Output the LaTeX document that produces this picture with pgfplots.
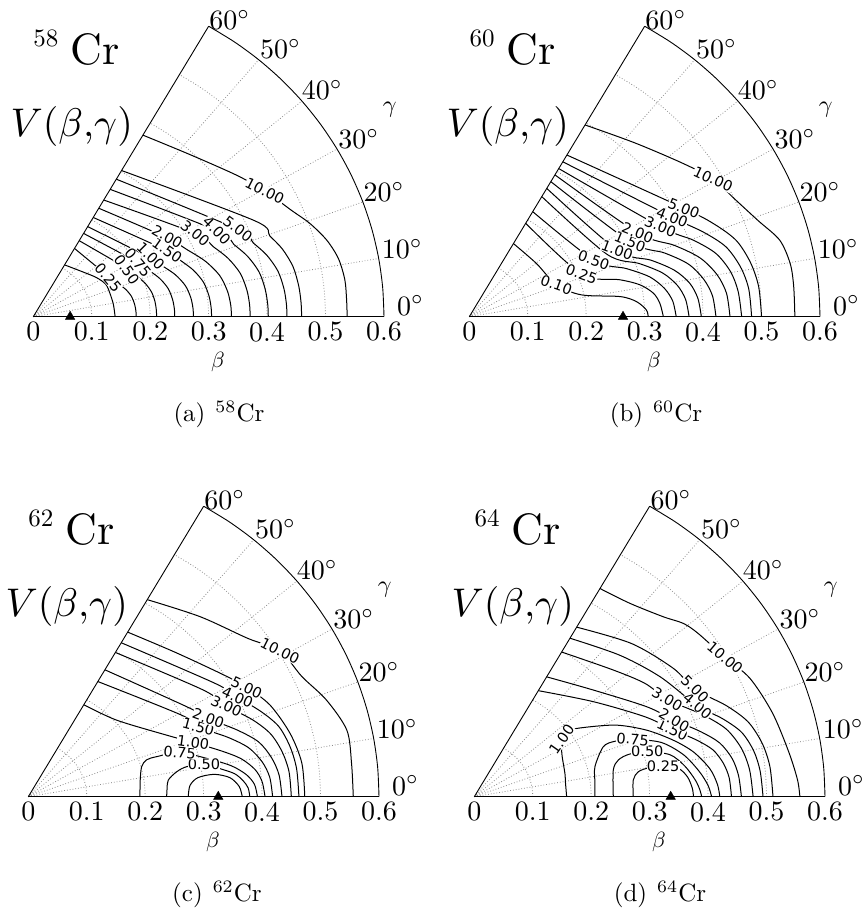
\documentclass[border=0pt]{standalone}
\usepackage{fix-cm}
\usepackage{graphicx}
\usepackage{fontspec}
\usepackage{pgfplots}
\usepgfplotslibrary{polar}
\pgfplotsset{compat=1.18}
\newfontfamily\clabfont{DejaVu Sans}

\pgfplotsset{
  panel/.style={anchor=south west, x=584.5pt, y=559pt, xmin=0, xmax=0.6, ymin=0, ymax=0.52, hide axis, clip=false},
  cline/.style={black, line width=1pt, smooth, mark=none},
  pgrid/.style={black!45, line width=0.8pt, dash pattern=on 0.8pt off 2pt, mark=none},
  pframe/.style={black, line width=0.9pt, mark=none},
}
\tikzset{
  clab/.style={font={\clabfont\fontsize{14.5}{14.5}\selectfont}, fill=white, inner sep=0.3pt},
  tk/.style={inner sep=0pt},
}
\newcommand{\tl}[1]{\scalebox{2.8}{#1}}
\newcommand{\polarframe}[1]{%
  \pgfplotsinvokeforeach{0.1,0.2,0.3,0.4,0.5}{%
    \addplot[pgrid, data cs=polar, smooth] coordinates {(0,##1) (5,##1) (10,##1) (15,##1) (20,##1) (25,##1) (30,##1) (35,##1) (40,##1) (45,##1) (50,##1) (55,##1) (60,##1)};
  }%
  \addplot[pgrid] coordinates {(0,0) (0.5909,0.1042)};
  \addplot[pgrid] coordinates {(0,0) (0.5638,0.2052)};
  \addplot[pgrid] coordinates {(0,0) (0.5196,0.3)};
  \addplot[pgrid] coordinates {(0,0) (0.4596,0.3857)};
  \addplot[pgrid] coordinates {(0,0) (0.3857,0.4596)};
  \addplot[pframe] coordinates {(0,0) (0.6,0)};
  \addplot[pframe] coordinates {(0,0) (0.3,0.5196)};
  \addplot[pframe, data cs=polar, smooth] coordinates {(0,0.6) (5,0.6) (10,0.6) (15,0.6) (20,0.6) (25,0.6) (30,0.6) (35,0.6) (40,0.6) (45,0.6) (50,0.6) (55,0.6) (60,0.6)};
  \node[tk, anchor=north] at (axis cs:0,-0.0095) {\tl{0}};
  \node[tk, anchor=north] at (axis cs:0.1,-0.0095) {\tl{0.1}};
  \node[tk, anchor=north] at (axis cs:0.2,-0.0095) {\tl{0.2}};
  \node[tk, anchor=north] at (axis cs:0.3,-0.0095) {\tl{0.3}};
  \node[tk, anchor=north] at (axis cs:0.4,-0.0095) {\tl{0.4}};
  \node[tk, anchor=north] at (axis cs:0.5,-0.0095) {\tl{0.5}};
  \node[tk, anchor=north] at (axis cs:0.6,-0.0095) {\tl{0.6}};
  \node[tk, anchor=base west] at (axis cs:0.622,0.003) {\tl{0$^\circ$}};
  \node[tk, anchor=base west] at (axis cs:0.596,0.1045) {\tl{10$^\circ$}};
  \node[tk, anchor=base west] at (axis cs:0.5646,0.2058) {\tl{20$^\circ$}};
  \node[tk, anchor=base west] at (axis cs:0.5218,0.3012) {\tl{30$^\circ$}};
  \node[tk, anchor=base west] at (axis cs:0.4592,0.3877) {\tl{40$^\circ$}};
  \node[tk, anchor=base west] at (axis cs:0.3879,0.4622) {\tl{50$^\circ$}};
  \node[tk, anchor=base west] at (axis cs:0.3011,0.5135) {\tl{60$^\circ$}};
  \node[tk, anchor=north] at (axis cs:0.316,-0.063) {\scalebox{2.2}{$\beta$}};
  \node[tk] at (axis cs:0.610,0.370) {\scalebox{2.4}{$\gamma$}};
  \node[tk, anchor=base west] at (axis cs:0,0.4825) {\scalebox{2.5}{#1}};
  \node[tk, anchor=base west] at (axis cs:0.064,0.4503) {\scalebox{4.4}{Cr}};
  \node[tk, anchor=base west] at (axis cs:-0.039,0.3215) {\scalebox{4.0}{$V(\beta{,}\gamma)$}};
}

\begin{document}
\begin{tikzpicture}
\useasboundingbox (0,0) rectangle (867pt,916pt);

% ---------------- (a) 58Cr ----------------
\begin{axis}[panel, at={(33.3pt,599.3pt)}]
\polarframe{58}
\addplot[cline] coordinates {(0.0535,0.0927) (0.085,0.080) (0.108,0.070) (0.124,0.058) (0.131,0.042) (0.137,0.022) (0.140,0)};
\addplot[cline] coordinates {(0.0705,0.1221) (0.131,0.070) (0.1459,0.0588) (0.158,0.049) (0.1679,0.0364) (0.1733,0.0224) (0.1756,0.0098) (0.176,0)};
\addplot[cline] coordinates {(0.0785,0.136) (0.164,0.084) (0.1795,0.0706) (0.1922,0.0588) (0.2025,0.0437) (0.2082,0.0269) (0.2105,0.0118) (0.211,0)};
\addplot[cline] coordinates {(0.086,0.149) (0.179,0.097) (0.1998,0.0815) (0.2168,0.0679) (0.2307,0.0504) (0.2382,0.031) (0.2414,0.0136) (0.242,0)};
\addplot[cline] coordinates {(0.093,0.1611) (0.197,0.107) (0.2224,0.0899) (0.2432,0.0749) (0.2601,0.0556) (0.2694,0.0342) (0.2732,0.015) (0.274,0)};
\addplot[cline] coordinates {(0.1025,0.1775) (0.227,0.119) (0.2527,0.100) (0.2738,0.0833) (0.291,0.0619) (0.3003,0.0381) (0.3042,0.0167) (0.305,0)};
\addplot[cline] coordinates {(0.112,0.194) (0.227,0.142) (0.264,0.1193) (0.2942,0.0994) (0.3188,0.0738) (0.3323,0.0454) (0.3379,0.0199) (0.339,0)};
\addplot[cline] coordinates {(0.1205,0.2087) (0.277,0.149) (0.308,0.1252) (0.3334,0.1043) (0.3541,0.0775) (0.3654,0.0477) (0.3701,0.0209) (0.371,0)};
\addplot[cline] coordinates {(0.1315,0.2278) (0.314,0.154) (0.343,0.1294) (0.3668,0.1078) (0.3862,0.0801) (0.3967,0.0493) (0.4011,0.0216) (0.402,0)};
\addplot[cline] coordinates {(0.142,0.246) (0.348,0.157) (0.3764,0.1319) (0.3996,0.1099) (0.4185,0.0816) (0.4288,0.0502) (0.4331,0.022) (0.434,0)};
\addplot[cline] coordinates {(0.151,0.2615) (0.378,0.172) (0.4047,0.1445) (0.4266,0.1204) (0.4444,0.0894) (0.4541,0.055) (0.4582,0.0241) (0.459,0)};
\addplot[cline] coordinates {(0.1875,0.3248) (0.268,0.290) (0.348,0.253) (0.396,0.225) (0.442,0.190) (0.473,0.167) (0.502,0.137) (0.522,0.104) (0.533,0.066) (0.536,0.030) (0.537,0)};
\node[clab, rotate=-50] at (axis cs:0.128,0.070) {0.25};
\node[clab, rotate=-55] at (axis cs:0.160,0.084) {0.50};
\node[clab, rotate=-50] at (axis cs:0.179,0.097) {0.75};
\node[clab, rotate=-45] at (axis cs:0.201,0.108) {1.00};
\node[clab, rotate=-35] at (axis cs:0.229,0.119) {1.50};
\node[clab, rotate=-30] at (axis cs:0.229,0.143) {2.00};
\node[clab, rotate=-40] at (axis cs:0.277,0.149) {3.00};
\node[clab, rotate=-45] at (axis cs:0.314,0.154) {4.00};
\node[clab, rotate=-37] at (axis cs:0.350,0.157) {5.00};
\node[clab, rotate=-27] at (axis cs:0.396,0.225) {10.00};
\addplot[only marks, mark=triangle*, mark size=5.5pt, black] coordinates {(0.063,0)};
\end{axis}

% ---------------- (b) 60Cr ----------------
\begin{axis}[panel, at={(469.3pt,599.3pt)}]
\polarframe{60}
\addplot[cline] coordinates {(0.0755,0.1308) (0.115,0.095) (0.149,0.057) (0.192,0.039) (0.258,0.036) (0.286,0.027) (0.303,0.012) (0.306,0)};
\addplot[cline] coordinates {(0.0965,0.1671) (0.192,0.076) (0.258,0.066) (0.292,0.057) (0.315,0.042) (0.326,0.024) (0.332,0)};
\addplot[cline] coordinates {(0.1085,0.1879) (0.213,0.101) (0.269,0.086) (0.309,0.071) (0.334,0.0505) (0.348,0.028) (0.354,0)};
\addplot[cline] coordinates {(0.124,0.2148) (0.235,0.112) (0.291,0.095) (0.331,0.078) (0.356,0.056) (0.370,0.031) (0.376,0)};
\addplot[cline] coordinates {(0.1325,0.2295) (0.253,0.119) (0.311,0.101) (0.351,0.083) (0.377,0.060) (0.391,0.033) (0.397,0)};
\addplot[cline] coordinates {(0.1395,0.2416) (0.275,0.134) (0.334,0.114) (0.375,0.094) (0.401,0.067) (0.416,0.0375) (0.422,0)};
\addplot[cline] coordinates {(0.1465,0.2537) (0.288,0.150) (0.351,0.1275) (0.395,0.105) (0.424,0.075) (0.440,0.042) (0.446,0)};
\addplot[cline] coordinates {(0.153,0.265) (0.327,0.161) (0.383,0.137) (0.422,0.113) (0.447,0.0805) (0.460,0.045) (0.466,0)};
\addplot[cline] coordinates {(0.160,0.2771) (0.347,0.178) (0.401,0.151) (0.439,0.125) (0.464,0.089) (0.478,0.050) (0.483,0)};
\addplot[cline] coordinates {(0.167,0.2892) (0.367,0.194) (0.420,0.165) (0.457,0.136) (0.481,0.097) (0.495,0.054) (0.500,0)};
\addplot[cline] coordinates {(0.198,0.343) (0.283,0.311) (0.366,0.274) (0.417,0.246) (0.4545,0.210) (0.494,0.172) (0.531,0.137) (0.549,0.095) (0.555,0.054) (0.557,0)};
\node[clab, rotate=-20] at (axis cs:0.149,0.057) {0.10};
\node[clab, rotate=-20] at (axis cs:0.192,0.076) {0.25};
\node[clab, rotate=-20] at (axis cs:0.213,0.101) {0.50};
\node[clab, rotate=-20] at (axis cs:0.253,0.119) {1.00};
\node[clab, rotate=-22] at (axis cs:0.275,0.134) {1.50};
\node[clab, rotate=-22] at (axis cs:0.288,0.150) {2.00};
\node[clab, rotate=-22] at (axis cs:0.327,0.161) {3.00};
\node[clab, rotate=-22] at (axis cs:0.347,0.178) {4.00};
\node[clab, rotate=-22] at (axis cs:0.367,0.194) {5.00};
\node[clab, rotate=-25] at (axis cs:0.417,0.246) {10.00};
\addplot[only marks, mark=triangle*, mark size=5.5pt, black] coordinates {(0.263,0)};
\end{axis}

% ---------------- (c) 62Cr ----------------
\begin{axis}[panel, at={(28.3pt,119.3pt)}]
\polarframe{62}
\addplot[cline] coordinates {(0.2737,0) (0.2766,0.02) (0.29,0.034) (0.318,0.040) (0.345,0.034) (0.361,0.018) (0.366,0)};
\addplot[cline] coordinates {(0.2367,0) (0.2375,0.015) (0.2395,0.0298) (0.254,0.0447) (0.271,0.0537) (0.3005,0.058) (0.3315,0.049) (0.3532,0.041) (0.3672,0.029) (0.376,0.016) (0.379,0)};
\addplot[cline] coordinates {(0.191,0) (0.1915,0.03) (0.194,0.054) (0.2025,0.066) (0.2195,0.0716) (0.259,0.079) (0.311,0.067) (0.348,0.055) (0.373,0.0395) (0.387,0.022) (0.392,0)};
\addplot[cline] coordinates {(0.095,0.1645) (0.151,0.137) (0.237,0.110) (0.282,0.097) (0.330,0.082) (0.364,0.068) (0.388,0.0485) (0.400,0.027) (0.405,0)};
\addplot[cline] coordinates {(0.119,0.206) (0.262,0.146) (0.291,0.125) (0.342,0.106) (0.377,0.0875) (0.400,0.0625) (0.413,0.035) (0.418,0)};
\addplot[cline] coordinates {(0.131,0.227) (0.271,0.161) (0.308,0.140) (0.358,0.119) (0.394,0.098) (0.416,0.070) (0.429,0.039) (0.434,0)};
\addplot[cline] coordinates {(0.149,0.258) (0.299,0.191) (0.339,0.162) (0.383,0.138) (0.414,0.113) (0.434,0.081) (0.446,0.045) (0.450,0)};
\addplot[cline] coordinates {(0.159,0.2754) (0.319,0.203) (0.358,0.178) (0.400,0.151) (0.429,0.125) (0.448,0.089) (0.459,0.050) (0.463,0)};
\addplot[cline] coordinates {(0.170,0.2944) (0.252,0.258) (0.334,0.218) (0.3735,0.1956) (0.4135,0.164) (0.448,0.113) (0.468,0.060) (0.473,0)};
\addplot[cline] coordinates {(0.2035,0.3525) (0.294,0.322) (0.376,0.283) (0.4306,0.261) (0.468,0.215) (0.510,0.173) (0.545,0.119) (0.553,0.060) (0.556,0)};
\node[clab, rotate=0] at (axis cs:0.3005,0.058) {0.50};
\node[clab, rotate=-5] at (axis cs:0.259,0.079) {0.75};
\node[clab, rotate=-8] at (axis cs:0.282,0.097) {1.00};
\node[clab, rotate=-15] at (axis cs:0.291,0.125) {1.50};
\node[clab, rotate=-20] at (axis cs:0.308,0.140) {2.00};
\node[clab, rotate=-25] at (axis cs:0.339,0.162) {3.00};
\node[clab, rotate=-25] at (axis cs:0.358,0.178) {4.00};
\node[clab, rotate=-25] at (axis cs:0.3735,0.1956) {5.00};
\node[clab, rotate=-27] at (axis cs:0.4306,0.261) {10.00};
\addplot[only marks, mark=triangle*, mark size=5.5pt, black] coordinates {(0.325,0)};
\end{axis}

% ---------------- (d) 64Cr ----------------
\begin{axis}[panel, at={(474.3pt,119.3pt)}]
\polarframe{64}
\addplot[cline] coordinates {(0.272,0) (0.272,0.0298) (0.2806,0.0447) (0.30,0.052) (0.323,0.0537) (0.35,0.05) (0.365,0.035) (0.373,0.015) (0.375,0)};
\addplot[cline] coordinates {(0.2378,0) (0.2378,0.0477) (0.2464,0.0656) (0.265,0.076) (0.296,0.0805) (0.335,0.075) (0.36,0.055) (0.378,0.03) (0.386,0.012) (0.389,0)};
\addplot[cline] coordinates {(0.2064,0) (0.2064,0.025) (0.2064,0.0537) (0.2207,0.0894) (0.24,0.099) (0.271,0.1026) (0.32,0.097) (0.358,0.075) (0.385,0.045) (0.400,0.02) (0.406,0)};
\addplot[cline] coordinates {(0.158,0) (0.156,0.025) (0.155,0.042) (0.150,0.075) (0.1494,0.1026) (0.160,0.118) (0.189,0.124) (0.2435,0.128) (0.295,0.119) (0.3405,0.101) (0.375,0.08) (0.403,0.05) (0.416,0.022) (0.420,0)};
\addplot[cline] coordinates {(0.1095,0.1897) (0.2036,0.170) (0.292,0.143) (0.339,0.120) (0.379,0.102) (0.408,0.084) (0.426,0.060) (0.436,0.034) (0.440,0)};
\addplot[cline] coordinates {(0.1238,0.2144) (0.2036,0.1908) (0.2948,0.161) (0.342,0.137) (0.388,0.116) (0.420,0.096) (0.441,0.0685) (0.452,0.038) (0.457,0)};
\addplot[cline] coordinates {(0.1494,0.2588) (0.2378,0.2266) (0.292,0.2027) (0.332,0.173) (0.390,0.147) (0.431,0.121) (0.457,0.0865) (0.471,0.048) (0.477,0)};
\addplot[cline] coordinates {(0.1637,0.2835) (0.249,0.253) (0.3177,0.2147) (0.380,0.164) (0.4256,0.139) (0.4575,0.115) (0.478,0.082) (0.489,0.046) (0.494,0)};
\addplot[cline] coordinates {(0.1751,0.3033) (0.269,0.274) (0.3405,0.2296) (0.3775,0.192) (0.431,0.163) (0.4683,0.134) (0.4923,0.096) (0.5057,0.054) (0.511,0)};
\addplot[cline] coordinates {(0.215,0.3724) (0.266,0.346) (0.323,0.322) (0.3576,0.310) (0.383,0.292) (0.429,0.249) (0.4716,0.2117) (0.51,0.15) (0.538,0.08) (0.553,0.03) (0.557,0)};
\node[clab, rotate=0] at (axis cs:0.323,0.0537) {0.25};
\node[clab, rotate=0] at (axis cs:0.296,0.0805) {0.50};
\node[clab, rotate=-5] at (axis cs:0.271,0.1026) {0.75};
\node[clab, rotate=55] at (axis cs:0.1494,0.1026) {1.00};
\node[clab, rotate=-25] at (axis cs:0.339,0.120) {1.50};
\node[clab, rotate=-30] at (axis cs:0.342,0.137) {2.00};
\node[clab, rotate=-30] at (axis cs:0.330,0.174) {3.00};
\node[clab, rotate=-40] at (axis cs:0.382,0.163) {4.00};
\node[clab, rotate=-45] at (axis cs:0.3775,0.193) {5.00};
\node[clab, rotate=-40] at (axis cs:0.429,0.249) {10.00};
\addplot[only marks, mark=triangle*, mark size=5.5pt, black] coordinates {(0.336,0)};
\end{axis}

% captions
\node[anchor=base, inner sep=0] at (219pt,494pt) {\scalebox{2.5}{(a)\hspace{4pt}$^{58}$Cr}};
\node[anchor=base, inner sep=0] at (656pt,494pt) {\scalebox{2.5}{(b)\hspace{4pt}$^{60}$Cr}};
\node[anchor=base, inner sep=0] at (217pt,14pt) {\scalebox{2.5}{(c)\hspace{4pt}$^{62}$Cr}};
\node[anchor=base, inner sep=0] at (660pt,14pt) {\scalebox{2.5}{(d)\hspace{4pt}$^{64}$Cr}};
\end{tikzpicture}
\end{document}
